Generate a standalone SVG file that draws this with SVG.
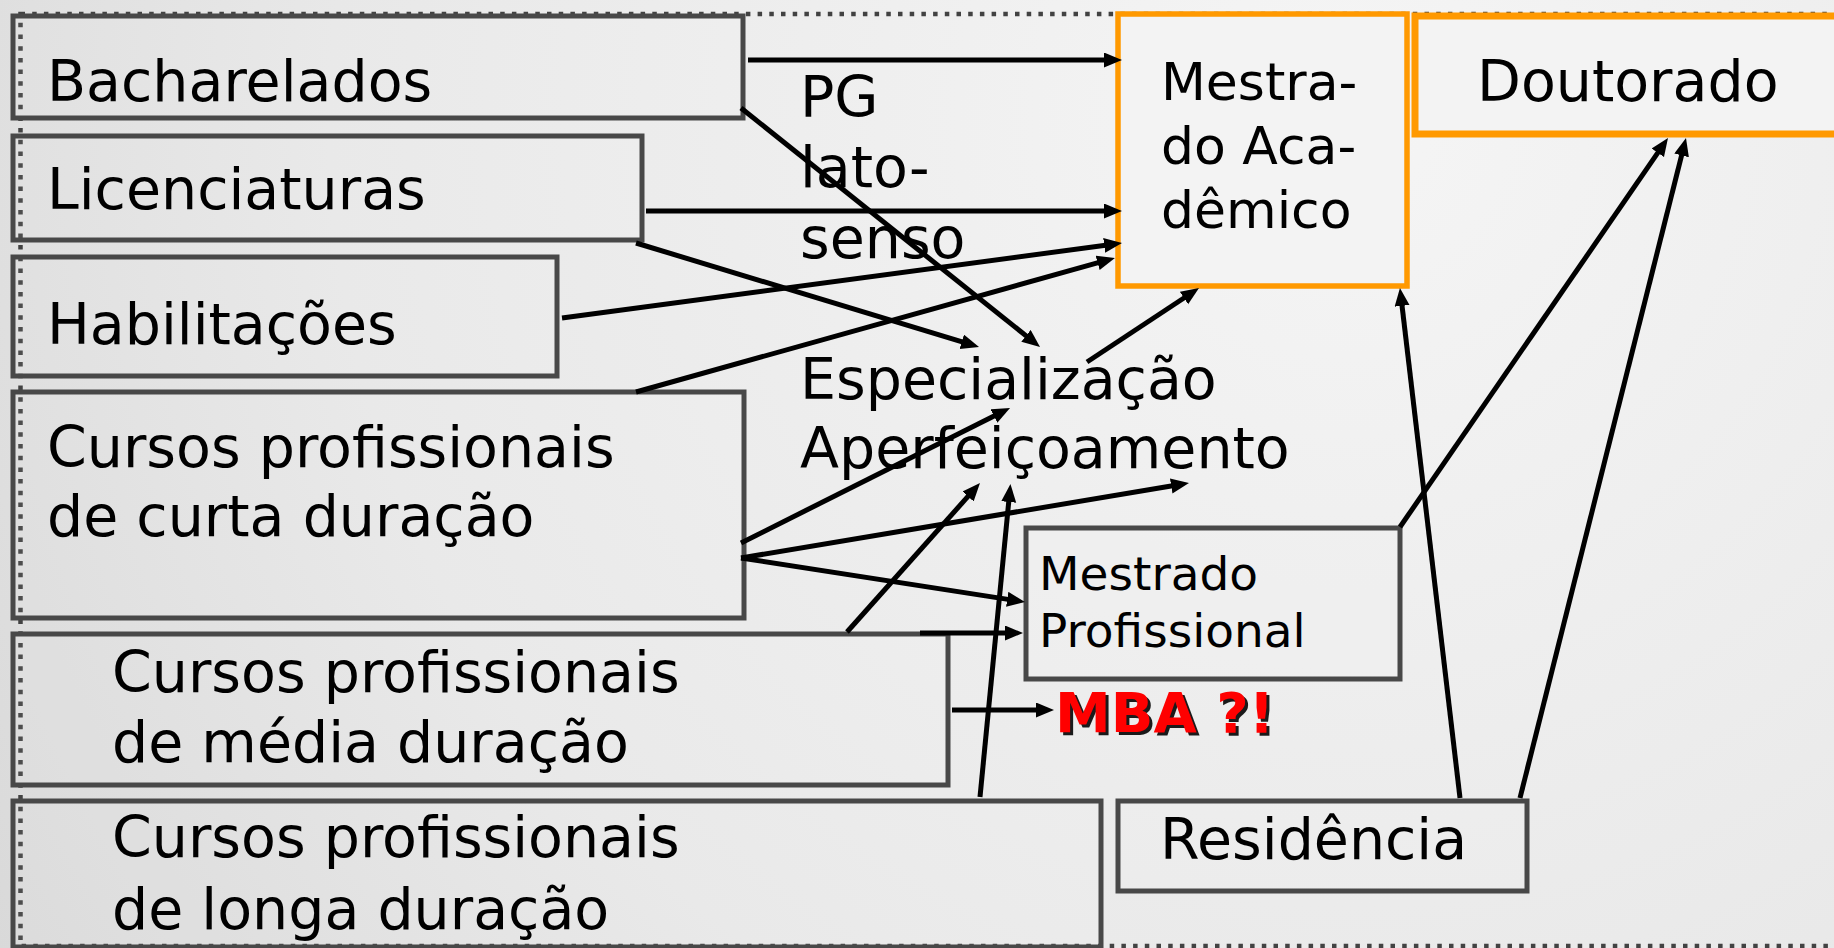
<svg xmlns="http://www.w3.org/2000/svg" width="1834" height="948" viewBox="0 0 1834 948">
  <defs>
    <radialGradient id="bg" cx="1350" cy="120" r="1700" gradientUnits="userSpaceOnUse">
      <stop offset="0" stop-color="#f5f5f5"/>
      <stop offset="0.6" stop-color="#e8e8e8"/>
      <stop offset="1" stop-color="#d6d6d6"/>
    </radialGradient>
    <marker id="ah" markerUnits="userSpaceOnUse" markerWidth="19" markerHeight="16" refX="9" refY="7.5" orient="auto">
      <path d="M0,0 L18,7.5 L0,15 z" fill="#000"/>
    </marker>
  </defs>
  <style>
    text { font-family: "DejaVu Sans", "Verdana", sans-serif; fill: #000; }
    .t56 { font-size: 57px; }
    .t51 { font-size: 52px; }
    .t45 { font-size: 47px; }
    .box { fill: #ffffff; fill-opacity: 0.06; stroke: #484848; stroke-width: 5; }
    .obox { fill: #f3f3f3; stroke: #ff9900; }
    .conn line { stroke: #000; stroke-width: 5; marker-end: url(#ah); }
    .mba { font-size: 56px; font-weight: bold; }
  </style>

  <rect x="0" y="0" width="1834" height="948" fill="url(#bg)"/>

  <rect id="frame" x="20.5" y="14" width="1830" height="932" fill="none" stroke="#424242" stroke-width="4.5" stroke-dasharray="4.5 7.2"/>

  <g id="bacharelados">
    <rect class="box" x="13" y="16" width="730" height="102"/>
    <text class="t56" x="47" y="101">Bacharelados</text>
  </g>
  <g id="licenciaturas">
    <rect class="box" x="13" y="136" width="629" height="104"/>
    <text class="t56" x="47" y="209">Licenciaturas</text>
  </g>
  <g id="habilitacoes">
    <rect class="box" x="13" y="257" width="544" height="119"/>
    <text class="t56" x="47" y="344">Habilitações</text>
  </g>
  <g id="curta">
    <rect class="box" x="13" y="392" width="731" height="226"/>
    <text class="t56" x="47" y="467">Cursos profissionais</text>
    <text class="t56" x="47" y="536">de curta duração</text>
  </g>
  <g id="media">
    <rect class="box" x="13" y="634" width="935" height="151"/>
    <text class="t56" x="112" y="692">Cursos profissionais</text>
    <text class="t56" x="112" y="762">de média duração</text>
  </g>
  <g id="longa">
    <rect class="box" x="13" y="801" width="1088" height="146"/>
    <text class="t56" x="112" y="857">Cursos profissionais</text>
    <text class="t56" x="112" y="929">de longa duração</text>
  </g>
  <g id="pg-lato-senso">
    <text class="t56" x="800" y="117">PG</text>
    <text class="t56" x="800" y="187">lato-</text>
    <text class="t56" x="800" y="258">senso</text>
  </g>
  <g id="especializacao">
    <text class="t56" x="800" y="399">Especialização</text>
    <text class="t56" x="800" y="468">Aperfeiçoamento</text>
  </g>
  <g id="doutorado">
    <rect class="obox" x="1415" y="16" width="440" height="118" stroke-width="7"/>
    <text class="t56" x="1477" y="101">Doutorado</text>
  </g>
  <g id="mestrado-academico">
    <rect class="obox" x="1118" y="14" width="289" height="272" stroke-width="5.5"/>
    <text class="t51" x="1161" y="100">Mestra-</text>
    <text class="t51" x="1161" y="164">do Aca-</text>
    <text class="t51" x="1161" y="228">dêmico</text>
  </g>
  <g id="mestrado-profissional">
    <rect class="box" x="1026" y="528" width="374" height="151"/>
    <text class="t45" x="1039" y="590">Mestrado</text>
    <text class="t45" x="1039" y="647">Profissional</text>
  </g>
  <g id="mba">
    <text class="mba" x="1058" y="735" style="fill:#1a1a1a">MBA ?!</text>
    <text class="mba" x="1055" y="732" style="fill:#ff0000">MBA ?!</text>
  </g>
  <g id="residencia">
    <rect class="box" x="1118" y="801" width="409" height="90"/>
    <text class="t56" x="1160" y="859">Residência</text>
  </g>

  <g id="connectors" class="conn">
    <line x1="748" y1="60" x2="1113" y2="60"/>
    <line x1="741" y1="108" x2="1033" y2="341.4"/>
    <line x1="646" y1="211" x2="1113" y2="211"/>
    <line x1="636" y1="243" x2="970.4" y2="344.4"/>
    <line x1="562" y1="318" x2="1113.1" y2="244.2"/>
    <line x1="636" y1="392" x2="1106.3" y2="260.4"/>
    <line x1="1087" y1="362" x2="1191.5" y2="293"/>
    <line x1="741" y1="543" x2="1002" y2="412"/>
    <line x1="741" y1="558" x2="1180.1" y2="484.5"/>
    <line x1="741" y1="558" x2="1016.1" y2="600.6"/>
    <line x1="847" y1="632" x2="974" y2="489.7"/>
    <line x1="920" y1="633" x2="1014" y2="633"/>
    <line x1="952" y1="710" x2="1045" y2="710"/>
    <line x1="980" y1="797" x2="1009.6" y2="493"/>
    <line x1="1400" y1="527" x2="1662.9" y2="145.4"/>
    <line x1="1460" y1="798" x2="1401" y2="296.9"/>
    <line x1="1520" y1="798" x2="1683.8" y2="146.7"/>
  </g>
</svg>
